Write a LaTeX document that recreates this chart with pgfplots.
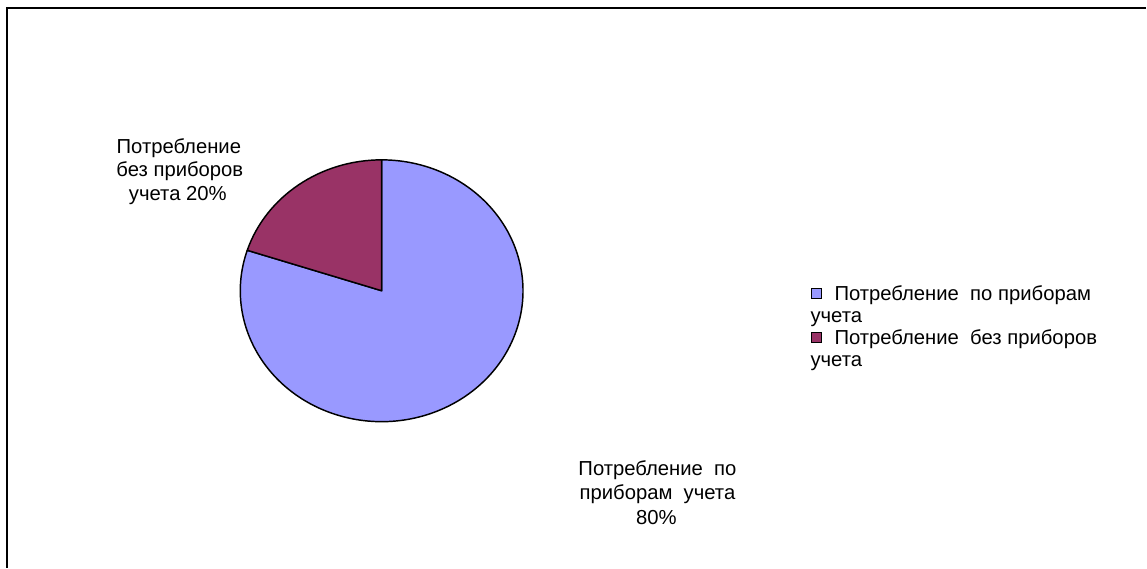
\documentclass[border=0pt]{standalone}
\usepackage{fontspec}
\setmainfont{Liberation Sans}
\usepackage{pgfplots}
\usepackage{pgfplotstable}
\pgfplotsset{compat=1.18}
\definecolor{pieblue}{HTML}{9999FF}
\definecolor{piered}{HTML}{993366}
\pgfplotstableread{
name value
meter 80
nometer 20
}\piedata
\pgfplotstablegetelem{0}{value}\of\piedata \let\vA\pgfplotsretval
\pgfplotstablegetelem{1}{value}\of\piedata \let\vB\pgfplotsretval
\pgfmathsetmacro\angB{90+3.6*\vB}
\pgfmathsetmacro\angA{\angB+3.6*\vA}
\pgfmathsetmacro\bx{106.1*cos(\angB)}
\pgfmathsetmacro\by{98.25*sin(\angB)}
\begin{document}%
\begin{tikzpicture}
\begin{axis}[scale only axis, width=860.25pt, height=426pt,
  xmin=0, xmax=1147, ymin=0, ymax=568, enlargelimits=false,
  hide axis, clip=false]
\path (axis cs:0,0) rectangle (axis cs:1147,568);
% frame (top and left edges visible)
\draw[line width=1.5pt, black] (axis cs:7,0) -- (axis cs:7,560) -- (axis cs:1147,560);
% pie
\filldraw[fill=pieblue, draw=black, line width=1.1pt, line join=round]
  (axis cs:382,277) -- ++(\bx pt,\by pt)
  arc[start angle=\angB, end angle=\angA, x radius=106.1pt, y radius=98.25pt] -- cycle;
\filldraw[fill=piered, draw=black, line width=1.1pt, line join=round]
  (axis cs:382,277) -- (axis cs:382,408)
  arc[start angle=90, end angle=\angB, x radius=106.1pt, y radius=98.25pt] -- cycle;
% data labels
\begin{scope}[every node/.style={font=\fontsize{15.2}{18}\selectfont, anchor=base, inner sep=0pt}]
\node at (axis cs:179,414) {Потребление};
\node at (axis cs:180,391) {без приборов};
\node at (axis cs:178,367) {учета \vB\%};
\node at (axis cs:658,92) {Потребление\ \ по};
\node at (axis cs:658,68) {приборам\ \ учета};
\node at (axis cs:657,43) {\vA\%};
% legend
\filldraw[fill=pieblue, draw=black, line width=0.9pt] (axis cs:812,269) rectangle (axis cs:822,279);
\filldraw[fill=piered, draw=black, line width=0.9pt] (axis cs:812,225) rectangle (axis cs:822,235);
\node[anchor=base west] at (axis cs:835,267) {Потребление\ \ по приборам};
\node[anchor=base west] at (axis cs:811,245) {учета};
\node[anchor=base west] at (axis cs:835,223) {Потребление\ \ без приборов};
\node[anchor=base west] at (axis cs:811,201) {учета};
\end{scope}
\end{axis}
\end{tikzpicture}%
\end{document}
